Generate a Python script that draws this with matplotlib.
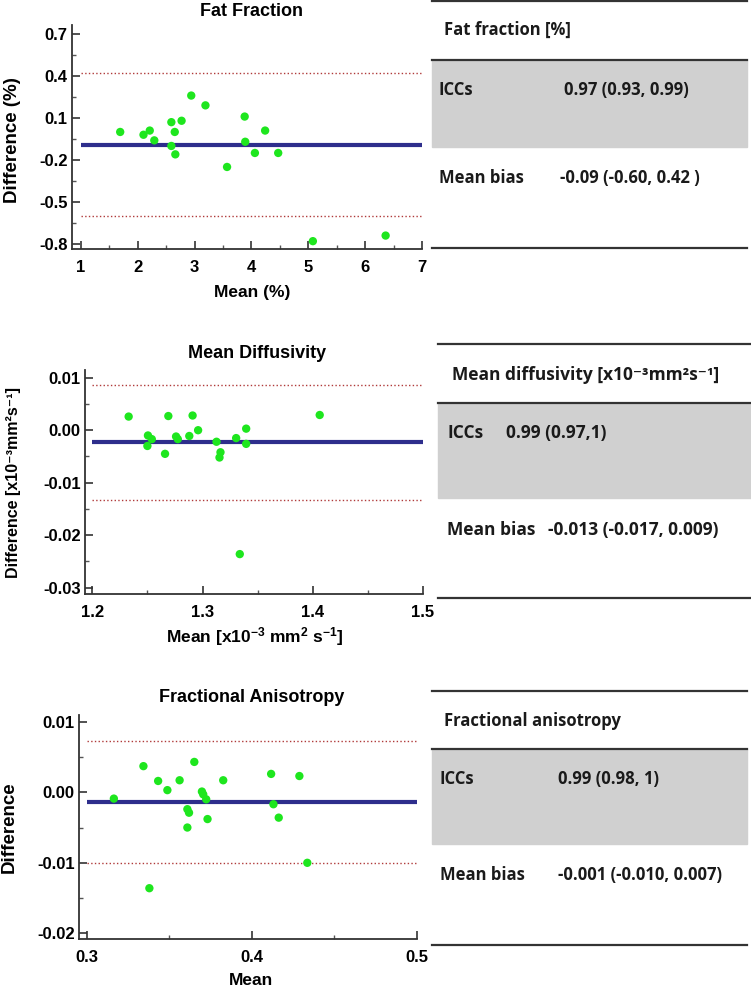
import matplotlib.pyplot as plt
from matplotlib.ticker import FixedLocator, FormatStrFormatter

plt.rcParams['axes.unicode_minus'] = False
plt.rcParams['font.family'] = ['Liberation Sans', 'DejaVu Sans']
plt.rcParams['font.weight'] = 'bold'
plt.rcParams['mathtext.fontset'] = 'custom'
plt.rcParams['mathtext.rm'] = 'Liberation Sans:bold'
plt.rcParams['mathtext.bf'] = 'Liberation Sans:bold'
plt.rcParams['mathtext.default'] = 'bf'

W, H = 751, 988

# Fat fraction (%)
ff_mean = [1.69, 2.10, 2.21, 2.29, 2.59, 2.59, 2.65, 2.66, 2.77, 2.94, 3.19,
           3.57, 3.88, 3.89, 4.06, 4.24, 4.47, 5.08, 6.36]
ff_diff = [0.00, -0.02, 0.01, -0.06, 0.07, -0.10, 0.00, -0.16, 0.08, 0.26, 0.19,
           -0.25, 0.11, -0.07, -0.15, 0.01, -0.15, -0.78, -0.74]
ff_bias, ff_upper, ff_lower = -0.093, 0.42, -0.60

# Mean diffusivity (x10-3 mm2 s-1)
md_mean = [1.233, 1.2505, 1.254, 1.250, 1.266, 1.269, 1.276, 1.2776, 1.288, 1.291,
           1.296, 1.3127, 1.3163, 1.3154, 1.3305, 1.3396, 1.3396, 1.3338, 1.4063]
md_diff = [0.0026, -0.0010, -0.0017, -0.0030, -0.0045, 0.0027, -0.0012, -0.0017,
           -0.0011, 0.0028, 0.0000, -0.0022, -0.0042, -0.0052, -0.0015, 0.0003,
           -0.0026, -0.0236, 0.0029]
md_bias, md_upper, md_lower = -0.00225, 0.0087, -0.0132

# Fractional anisotropy
fa_mean = [0.3165, 0.3344, 0.338, 0.3433, 0.3489, 0.3563, 0.361, 0.362, 0.361,
           0.3652, 0.3698, 0.3706, 0.3724, 0.3732, 0.3827, 0.4117, 0.4131, 0.4163,
           0.4288, 0.4336]
fa_diff = [-0.0009, 0.0037, -0.0136, 0.0016, 0.0003, 0.0017, -0.0024, -0.0029,
           -0.0050, 0.0043, 0.0001, -0.0003, -0.0010, -0.0038, 0.0017, 0.0026,
           -0.0017, -0.0036, 0.0023, -0.0100]
fa_bias, fa_upper, fa_lower = -0.0014, 0.0073, -0.0100

titles = ["Fat Fraction", "Mean Diffusivity", "Fractional Anisotropy"]
ylabels = ["Difference (%)", "Difference [x10\u207b\u00b3mm\u00b2s\u207b\u00b9]", "Difference"]
xlabels = ["Mean (%)", r"Mean [x10$^{-3}$ mm$^{2}$ s$^{-1}$]", "Mean"]

table_heads = ["Fat fraction [%]", "Mean diffusivity [x10\u207b\u00b3mm\u00b2s\u207b\u00b9]",
               "Fractional anisotropy"]
iccs = ["0.97 (0.93, 0.99)", "0.99 (0.97,1)", "0.99 (0.98, 1)"]
biases = ["-0.09 (-0.60, 0.42 )", "-0.013 (-0.017, 0.009)", "-0.001 (-0.010, 0.007)"]


def fx(px):
    return px / W


def fy(py):
    return 1 - py / H


fig = plt.figure(figsize=(W / 100, H / 100), dpi=100)

panels = [
    dict(mean=ff_mean, diff=ff_diff, bias=ff_bias, up=ff_upper, lo=ff_lower,
         box=(72, 422, 25, 249), xlim=(0.842, 7.0), ylim=(-0.836, 0.764),
         xmaj=[1, 2, 3, 4, 5, 6, 7], xmin=[1.5, 2.5, 3.5, 4.5, 5.5, 6.5],
         ymaj=[0.7, 0.4, 0.1, -0.2, -0.5, -0.8], ymin=[0.55, 0.25, -0.05, -0.35, -0.65],
         xfmt='%d', yfmt='%.1f', x0=1, x1=7),
    dict(mean=md_mean, diff=md_diff, bias=md_bias, up=md_upper, lo=md_lower,
         box=(85, 423, 370, 594), xlim=(1.1934, 1.5), ylim=(-0.0312, 0.01147),
         xmaj=[1.2, 1.3, 1.4, 1.5], xmin=[1.25, 1.35, 1.45],
         ymaj=[0.01, 0.0, -0.01, -0.02, -0.03], ymin=[0.005, -0.005, -0.015, -0.025],
         xfmt='%.1f', yfmt='%.2f', x0=1.2, x1=1.5),
    dict(mean=fa_mean, diff=fa_diff, bias=fa_bias, up=fa_upper, lo=fa_lower,
         box=(79, 417, 715, 939), xlim=(0.2954, 0.5), ylim=(-0.0208, 0.01095),
         xmaj=[0.3, 0.4, 0.5], xmin=[0.35, 0.45],
         ymaj=[0.01, 0.0, -0.01, -0.02], ymin=[0.005, -0.005, -0.015],
         xfmt='%.1f', yfmt='%.2f', x0=0.3, x1=0.5),
]

title_pos = [(251, 11), (257, 354), (252, 698)]
title_size = [13, 13, 13]
ylab_pos = [(13, 140), (14, 483), (9, 827)]
xlab_pos = [(252, 293), (255, 637), (251, 980)]
ylab_size = [13.5, 11.5, 13.5]

for i, p in enumerate(panels):
    l, r, t, b = p['box']
    ax = fig.add_axes([fx(l), fy(b), (r - l) / W, (b - t) / H])
    ax.set_xlim(*p['xlim'])
    ax.set_ylim(*p['ylim'])
    for s in ['top', 'right']:
        ax.spines[s].set_visible(False)
    for s in ['left', 'bottom']:
        ax.spines[s].set_color('#333333')
        ax.spines[s].set_linewidth(1.3)

    ax.plot([p['x0'], p['x1']], [p['up'], p['up']], ':', color='#b03a3a', lw=1)
    ax.plot([p['x0'], p['x1']], [p['lo'], p['lo']], ':', color='#b03a3a', lw=1)
    ax.plot([p['x0'], p['x1']], [p['bias'], p['bias']], color='#2e2e8c', lw=3,
            solid_capstyle='butt', zorder=2)
    ax.scatter(p['mean'], p['diff'], s=36, color='#1ee61e', edgecolors='none', zorder=3,
               clip_on=False)

    ax.xaxis.set_major_locator(FixedLocator(p['xmaj']))
    ax.xaxis.set_minor_locator(FixedLocator(p['xmin']))
    ax.yaxis.set_major_locator(FixedLocator(p['ymaj']))
    ax.yaxis.set_minor_locator(FixedLocator(p['ymin']))
    ax.xaxis.set_major_formatter(FormatStrFormatter(p['xfmt']))
    ax.yaxis.set_major_formatter(FormatStrFormatter(p['yfmt']))
    ax.tick_params(which='major', direction='in', length=6, width=1.2, color='#333333',
                   labelsize=12)
    ax.tick_params(which='minor', direction='in', length=3, width=1, color='#555555')
    ax.tick_params(axis='x', which='major', pad=8)
    ax.tick_params(axis='y', which='major', pad=3)
    for lab in ax.get_xticklabels() + ax.get_yticklabels():
        lab.set_fontweight('bold')

    fig.text(fx(title_pos[i][0]), fy(title_pos[i][1]), titles[i], ha='center', va='center',
             fontsize=title_size[i], fontweight='bold')
    fig.text(fx(ylab_pos[i][0]), fy(ylab_pos[i][1]), ylabels[i], ha='center', va='center',
             rotation=90, fontsize=ylab_size[i], fontweight='bold')
    fig.text(fx(xlab_pos[i][0]), fy(xlab_pos[i][1]), xlabels[i], ha='center', va='center',
             fontsize=12.5, fontweight='bold')

# tables on the right
tables = [
    dict(x0=432, x1=747, top=1, head=30, band=(60, 147), icc=90, bias=178, bottom=248,
         lab_x=439, head_x=444, val_x=564, bias_x=560, size=12),
    dict(x0=438, x1=751, top=344, head=375, band=(403, 498), icc=433, bias=530, bottom=598,
         lab_x=447, head_x=452, val_x=506, bias_x=548, size=12.5),
    dict(x0=432, x1=747, top=691, head=721, band=(749, 844), icc=779, bias=875, bottom=945,
         lab_x=440, head_x=444, val_x=558, bias_x=558, size=12),
]

for i, t in enumerate(tables):
    tab_font = dict(family=['Open Sans', 'DejaVu Sans'], fontweight='bold',
                    fontsize=t['size'], color='#1a1a1a', va='center')
    b0, b1 = t['band']
    fig.patches.append(plt.Rectangle((fx(t['x0']), fy(b1)), (t['x1'] - t['x0']) / W,
                                     (b1 - b0) / H, transform=fig.transFigure,
                                     color='#d0d0d0', zorder=0))
    for yy in [t['top'], b0, t['bottom']]:
        fig.add_artist(plt.Line2D([fx(t['x0']), fx(t['x1'])], [fy(yy), fy(yy)],
                                  transform=fig.transFigure, color='#333333', lw=1.6))
    fig.text(fx(t['head_x']), fy(t['head']), table_heads[i], **tab_font)
    fig.text(fx(t['lab_x']), fy(t['icc']), "ICCs", **tab_font)
    fig.text(fx(t['val_x']), fy(t['icc']), iccs[i], **tab_font)
    fig.text(fx(t['lab_x']), fy(t['bias']), "Mean bias", **tab_font)
    fig.text(fx(t['bias_x']), fy(t['bias']), biases[i], **tab_font)

fig.savefig("out.png", dpi=100)
